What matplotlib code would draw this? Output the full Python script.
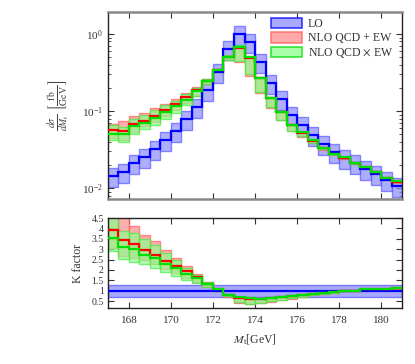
import numpy as np
import matplotlib
matplotlib.use("Agg")
import matplotlib.pyplot as plt
from matplotlib.patches import Patch
from matplotlib.ticker import FixedLocator, LogLocator, NullFormatter

plt.rcParams['font.family'] = ['Liberation Serif', 'DejaVu Serif']
plt.rcParams['mathtext.fontset'] = 'stix'

# ---------------- data ----------------
m_lo, m_hi, bin_w = 167.0, 181.0, 0.5
lo_central = [0.0144, 0.0160, 0.0209, 0.0255, 0.0321, 0.042, 0.0556, 0.078, 0.1137, 0.187,
              0.324, 0.638, 1.0, 0.794, 0.435, 0.229, 0.143, 0.0887, 0.066, 0.049,
              0.037, 0.0296, 0.0248, 0.0209, 0.0175, 0.0152, 0.0127, 0.0107]
lo_band = [0.72, 1.27]

k_add = [3.91, 3.43, 3.23, 2.94, 2.72, 2.43, 2.19, 1.95, 1.67, 1.30, 1.06, 0.78, 0.66, 0.61,
         0.61, 0.64, 0.68, 0.74, 0.79, 0.84, 0.89, 0.93, 1.00, 1.00, 1.06, 1.07, 1.07, 1.13]
k_add_lo = [3.07, 2.67, 2.59, 2.48, 2.27, 2.03, 1.83, 1.61, 1.40, 1.19, 1.00, 0.72, 0.43, 0.36,
            0.40, 0.48, 0.53, 0.62, 0.70, 0.78, 0.85, 0.90, 0.97, 0.97, 1.03, 1.04, 1.04, 1.10]
k_add_hi = [4.70, 4.60, 4.10, 3.67, 3.38, 2.94, 2.59, 2.19, 1.80, 1.40, 1.10, 0.82, 0.69, 0.63,
            0.63, 0.66, 0.70, 0.76, 0.81, 0.86, 0.91, 0.95, 1.02, 1.02, 1.08, 1.09, 1.09, 1.15]
k_mul = [3.55, 3.12, 3.02, 2.72, 2.56, 2.30, 2.08, 1.80, 1.61, 1.30, 1.06, 0.80, 0.68, 0.63,
         0.62, 0.65, 0.69, 0.75, 0.80, 0.85, 0.90, 0.94, 1.01, 1.01, 1.07, 1.08, 1.08, 1.14]
k_mul_lo = [2.91, 2.51, 2.40, 2.30, 2.08, 1.88, 1.69, 1.52, 1.37, 1.19, 1.00, 0.73, 0.45, 0.38,
            0.41, 0.49, 0.54, 0.63, 0.71, 0.79, 0.86, 0.91, 0.98, 0.98, 1.04, 1.05, 1.05, 1.11]
k_mul_hi = [4.60, 3.86, 3.78, 3.47, 3.19, 2.83, 2.46, 2.11, 1.77, 1.40, 1.10, 0.83, 0.71, 0.65,
            0.64, 0.67, 0.71, 0.77, 0.82, 0.87, 0.92, 0.96, 1.03, 1.03, 1.09, 1.10, 1.10, 1.16]

x_ticks = [168, 170, 172, 174, 176, 178, 180]
k_ticks = [0.5, 1, 1.5, 2, 2.5, 3, 3.5, 4, 4.5]
k_tick_labels = ['0.5', '1', '1.5', '2', '2.5', '3', '3.5', '4', '4.5']
legend_labels = ['LO', r'NLO QCD + EW', r'NLO QCD $\times$ EW']

# ---------------- derived ----------------
edges = np.arange(m_lo, m_hi + bin_w / 2, bin_w)
lo = np.array(lo_central)
K = {n: np.array(v) for n, v in dict(a=k_add, al=k_add_lo, ah=k_add_hi,
                                     m=k_mul, ml=k_mul_lo, mh=k_mul_hi).items()}

blue_f, blue_e, blue_l = '#8c8cff', '#5a5aff', '#0000ff'
red_f, red_e, red_l = '#ff8c8c', '#ff6060', '#ff0000'
green_f, green_e, green_l = '#8cff8c', '#44ee44', '#00dd00'

fig = plt.figure(figsize=(4.15, 3.64), dpi=100)
ax1 = fig.add_axes([0.260, 0.453, 0.709, 0.514])
ax2 = fig.add_axes([0.260, 0.154, 0.709, 0.247])


def bands(ax, low, high, fc, ec, alpha):
    ax.bar(edges[:-1], high - low, bottom=low, width=bin_w, align='edge',
           facecolor=fc, edgecolor=ec, linewidth=1.0, alpha=alpha, zorder=2)


# top panel
bands(ax1, lo * lo_band[0], lo * lo_band[1], blue_f, blue_e, 0.7)
bands(ax1, lo * K['al'], lo * K['ah'], red_f, red_e, 0.7)
bands(ax1, lo * K['ml'], lo * K['mh'], green_f, green_e, 0.7)
ax1.stairs(lo, edges, baseline=None, color=blue_l, linewidth=1.6, zorder=4)
ax1.stairs(lo * K['a'], edges, baseline=None, color=red_l, linewidth=1.6, zorder=4)
ax1.stairs(lo * K['m'], edges, baseline=None, color=green_l, linewidth=1.6, zorder=5)
ax1.set_yscale('log')
ax1.set_xlim(m_lo, m_hi)
ax1.set_ylim(0.0072, 1.93)
ax1.set_xticks(x_ticks)
ax1.set_xticklabels([])
ax1.yaxis.set_major_locator(FixedLocator([0.01, 0.1, 1.0]))
ax1.yaxis.set_minor_locator(LogLocator(base=10, subs=np.arange(2, 10)))
ax1.yaxis.set_minor_formatter(NullFormatter())
ax1.set_ylabel(r'$\frac{d\sigma}{dM_{\rm t}}\ \left[\frac{\rm fb}{\rm GeV}\right]$',
               fontsize=10, color='#444444', labelpad=8)

# bottom panel
ax2.axhspan(lo_band[0], lo_band[1], facecolor=blue_f, edgecolor=blue_e, linewidth=1.0,
            alpha=0.75, zorder=2)
ax2.axhline(1.0, color=blue_l, linewidth=1.6, zorder=3)
bands(ax2, K['al'], K['ah'], red_f, red_e, 0.7)
bands(ax2, K['ml'], K['mh'], green_f, green_e, 0.7)
ax2.stairs(K['a'], edges, baseline=None, color=red_l, linewidth=1.6, zorder=4)
ax2.stairs(K['m'], edges, baseline=None, color=green_l, linewidth=1.6, zorder=5)
ax2.set_xlim(m_lo, m_hi)
ax2.set_ylim(0.17, 4.5)
ax2.set_xticks(x_ticks)
ax2.set_yticks(k_ticks)
ax2.set_yticklabels(k_tick_labels)
ax2.set_ylabel('K factor', fontsize=8.5, color='#333333', labelpad=5)
ax2.set_xlabel(r'$M_{\rm t}$[GeV]', fontsize=8.5, color='#333333', labelpad=5)

for ax in (ax1, ax2):
    ax.tick_params(which='both', direction='in', top=True, right=True,
                   labelsize=8, labelcolor='#333333', color='#333333')
    ax.tick_params(which='major', length=4, width=0.8)
    ax.tick_params(which='minor', length=2.5, width=0.6)
    for s in ax.spines.values():
        s.set_color('#222222')
        s.set_linewidth(1.0)
ax2.tick_params(axis='x', pad=6)
ax2.tick_params(axis='y', labelsize=7, pad=3)
ax1.spines['top'].set_color('#888888')
ax1.spines['top'].set_linewidth(1.8)
ax1.spines['bottom'].set_color('#888888')
ax1.spines['bottom'].set_linewidth(1.8)

handles = [Patch(facecolor=blue_f, edgecolor=blue_l, alpha=0.75, linewidth=1.2),
           Patch(facecolor=red_f, edgecolor=red_e, alpha=0.75, linewidth=1.2),
           Patch(facecolor=green_f, edgecolor=green_l, alpha=0.75, linewidth=1.2)]
ax1.legend(handles, legend_labels, loc='upper right', frameon=False, fontsize=8.5,
           handlelength=2.6, handleheight=1.0, handletextpad=0.5, labelspacing=0.15,
           borderaxespad=0.1, bbox_to_anchor=(0.99, 1.0), labelcolor='#333333')

fig.savefig('out.png', dpi=100)
